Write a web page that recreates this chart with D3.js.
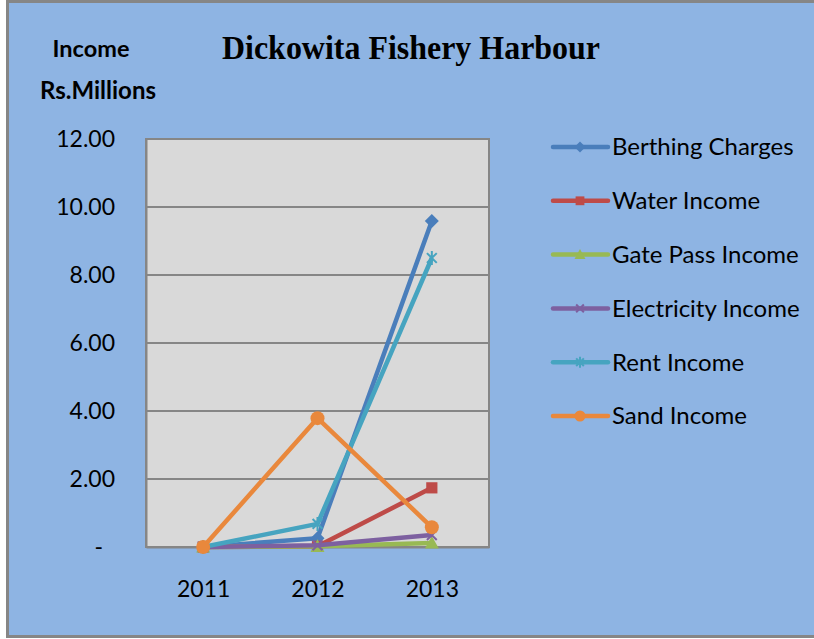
<!DOCTYPE html>
<html>
<head>
    <title>Dickowita Fishery Harbour</title>
    <script src="https://d3js.org/d3.v7.min.js"></script>
    <style>
        body { margin: 0; background: #fff; }
    </style>
</head>
<body>
    <div id="chart"></div>
    <script>

const years = ["2011", "2012", "2013"];
const seriesNames = ["Berthing Charges", "Water Income", "Gate Pass Income", "Electricity Income", "Rent Income", "Sand Income"];
const berthing = [0, 0.26, 9.59];
const water = [0, 0.02, 1.74];
const gatePass = [0, 0.02, 0.12];
const electricity = [0, 0.05, 0.35];
const rent = [0, 0.68, 8.50];
const sand = [0, 3.79, 0.58];
const yTicks = [0, 2, 4, 6, 8, 10, 12];

const colors = ["#4a7ebb", "#be4b48", "#98b954", "#7d60a0", "#46a4c0", "#e9883c"];
const markers = ["diamond", "square", "triangle", "cross", "star", "circle"];
const values = [berthing, water, gatePass, electricity, rent, sand];

const width = 814, height = 639;
const plot = {left: 146, right: 489, top: 139, bottom: 547};
const font = "Lato, 'Open Sans', sans-serif";

const svg = d3.create("svg")
    .attr("width", width)
    .attr("height", height)
    .attr("viewBox", [0, 0, width, height])
    .style("display", "block");

// chart background and frame
svg.append("rect")
    .attr("x", 7.5).attr("y", 1.5)
    .attr("width", width + 10).attr("height", 635)
    .attr("fill", "#8eb4e3")
    .attr("stroke", "#868686")
    .attr("stroke-width", 3);

const x = d3.scalePoint()
    .domain(years)
    .range([plot.left, plot.right])
    .padding(0.5);

const y = d3.scaleLinear()
    .domain([0, 12])
    .range([plot.bottom, plot.top]);

svg.append("rect")
    .attr("x", plot.left).attr("y", plot.top)
    .attr("width", plot.right - plot.left)
    .attr("height", plot.bottom - plot.top)
    .attr("fill", "#d9d9d9")
    .attr("stroke", "#868686")
    .attr("stroke-width", 2);

// gridlines
svg.append("g")
    .selectAll("line")
    .data(yTicks.slice(1))
    .join("line")
      .attr("x1", plot.left).attr("x2", plot.right)
      .attr("y1", d => y(d)).attr("y2", d => y(d))
      .attr("stroke", "#868686")
      .attr("stroke-width", 2);

// y axis
const yAxis = svg.append("g")
    .attr("transform", `translate(${plot.left},0)`)
    .call(d3.axisLeft(y).tickValues(yTicks).tickSize(0).tickPadding(31)
        .tickFormat(d => d === 0 ? "-" : d3.format(".2f")(d)));
yAxis.select(".domain").attr("stroke", "#868686").attr("stroke-width", 2);
yAxis.selectAll("text")
    .attr("font-family", font)
    .attr("font-size", 23)
    .attr("fill", "#000");
yAxis.selectAll(".tick").filter(d => d === 0).select("text")
    .attr("dx", -12);

// x axis
const xAxis = svg.append("g")
    .attr("transform", `translate(0,${plot.bottom})`)
    .call(d3.axisBottom(x).tickSize(0).tickPadding(34));
xAxis.select(".domain").attr("stroke", "#868686").attr("stroke-width", 2);
xAxis.selectAll("text")
    .attr("font-family", font)
    .attr("font-size", 23)
    .attr("fill", "#000");

// titles
svg.append("text")
    .attr("x", 222).attr("y", 59)
    .attr("font-family", "'Liberation Serif', 'DejaVu Serif', serif")
    .attr("font-weight", "bold")
    .attr("font-size", 33)
    .attr("textLength", 378)
    .attr("lengthAdjust", "spacingAndGlyphs")
    .text("Dickowita Fishery Harbour");

svg.append("text")
    .attr("x", 91).attr("y", 57)
    .attr("text-anchor", "middle")
    .attr("font-family", font)
    .attr("font-weight", "bold")
    .attr("font-size", 23.5)
    .text("Income");

svg.append("text")
    .attr("x", 98).attr("y", 99)
    .attr("text-anchor", "middle")
    .attr("font-family", font)
    .attr("font-weight", "bold")
    .attr("font-size", 24)
    .text("Rs.Millions");

function marker(sel, type, color, size) {
  const s = size;
  if (type === "diamond") {
    sel.append("path").attr("d", `M0,${-s}L${s},0L0,${s}L${-s},0Z`).attr("fill", color);
  } else if (type === "square") {
    sel.append("rect").attr("x", -s * 0.8).attr("y", -s * 0.8)
      .attr("width", s * 1.6).attr("height", s * 1.6).attr("fill", color);
  } else if (type === "triangle") {
    sel.append("path").attr("d", `M0,${-s}L${s},${s * 0.8}L${-s},${s * 0.8}Z`).attr("fill", color);
  } else if (type === "cross") {
    sel.append("path").attr("d", `M${-s * 0.7},${-s * 0.7}L${s * 0.7},${s * 0.7}M${s * 0.7},${-s * 0.7}L${-s * 0.7},${s * 0.7}`)
      .attr("stroke", color).attr("stroke-width", 2).attr("fill", "none");
  } else if (type === "star") {
    sel.append("path").attr("d", `M${-s * 0.7},${-s * 0.7}L${s * 0.7},${s * 0.7}M${s * 0.7},${-s * 0.7}L${-s * 0.7},${s * 0.7}M0,${-s}L0,${s}`)
      .attr("stroke", color).attr("stroke-width", 2).attr("fill", "none");
  } else {
    sel.append("circle").attr("r", s).attr("fill", color);
  }
}

const line = d3.line()
    .x((d, i) => x(years[i]))
    .y(d => y(d));

// series
values.forEach((vals, k) => {
  const g = svg.append("g");
  g.append("path")
      .attr("d", line(vals))
      .attr("fill", "none")
      .attr("stroke", colors[k])
      .attr("stroke-width", 4.5)
      .attr("stroke-linejoin", "round");
  g.selectAll("g")
    .data(vals)
    .join("g")
      .attr("transform", (d, i) => `translate(${x(years[i])},${y(d)})`)
      .each(function() { marker(d3.select(this), markers[k], colors[k], 7); });
});

// legend
const legend = svg.append("g")
    .selectAll("g")
    .data(seriesNames)
    .join("g")
      .attr("transform", (d, i) => `translate(553,${147 + i * 53.8})`);

legend.append("line")
    .attr("x1", 0).attr("x2", 55)
    .attr("stroke", (d, i) => colors[i])
    .attr("stroke-width", 4.5)
    .attr("stroke-linecap", "round");

legend.each(function(d, i) {
  const g = d3.select(this).append("g").attr("transform", "translate(27,0)");
  marker(g, markers[i], colors[i], 5.5);
});

legend.append("text")
    .attr("x", 59)
    .attr("dy", "0.35em")
    .attr("font-family", font)
    .attr("font-size", 24)
    .attr("fill", "#000")
    .text(d => d);

document.getElementById("chart").appendChild(svg.node());

    </script>
</body>
</html>
